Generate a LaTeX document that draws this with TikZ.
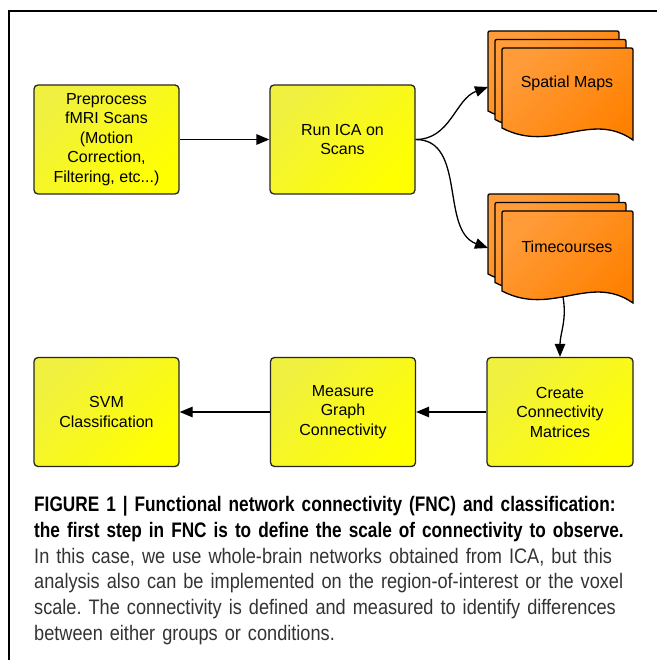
\documentclass[tikz,border=0pt]{standalone}
\usepackage{fontspec}
\setmainfont{Liberation Sans}
\newfontfamily\capfont[FakeStretch=0.865]{Liberation Sans}
\newfontfamily\capbold[FakeStretch=0.82]{Liberation Sans}
\usetikzlibrary{arrows.meta}

\definecolor{boxyellow}{HTML}{FFFF00}
\definecolor{boxyellowlight}{HTML}{F0F040}
\definecolor{sheetorange}{HTML}{FF8000}
\definecolor{sheetorangelight}{HTML}{FF9B38}
\definecolor{capgray}{HTML}{333333}

\tikzset{
    stepbox/.style={draw=black!85, line width=1.3pt, rounded corners=4pt,
        minimum width=145pt, minimum height=109pt, inner sep=0pt, align=center,
        top color=boxyellowlight, bottom color=boxyellow, shading angle=45,
        font=\fontsize{16}{19.5}\selectfont},
    sheet/.style={draw=black, line width=1.3pt,
        top color=sheetorangelight, bottom color=sheetorange, shading angle=45},
    sheetlabel/.style={font=\fontsize{16}{19.5}\selectfont},
    flow/.style={line width=1.3pt, -{Triangle[length=13pt,width=10.5pt]}},
}

% one page of a document stack, top left corner at (#1,#2)
\newcommand{\docsheet}[2]{%
    \draw[sheet] (#1,#2-80) -- (#1,#2-4) .. controls (#1,#2) .. (#1+4,#2)
        -- (#1+127,#2) .. controls (#1+131,#2) .. (#1+131,#2-4)
        -- (#1+131,#2-92) .. controls (#1+88,#2-62) and (#1+50,#2-106) .. (#1,#2-80) -- cycle;
}

\begin{document}
\begin{tikzpicture}[x=1pt,y=1pt]
    \useasboundingbox (0,0) rectangle (657,-660);
    \draw[line width=2pt] (657,-11) -- (9,-11) -- (9,-660);

    % the two stacks of output pages
    \foreach \d in {2,1,0} {
        \docsheet{502-7*\d}{-48+8.5*\d}
        \docsheet{502-7*\d}{-211+8.5*\d}
    }
    \node[sheetlabel] (spatial) at (567,-83) {Spatial Maps};
    \node[sheetlabel] (timecourses) at (567,-247) {Timecourses};
    \coordinate (spatial-in) at (488,-87);
    \coordinate (time-in) at (488,-248);
    \coordinate (time-out) at (563,-297);

    \node[stepbox] (prep) at (106.5,-139.5) {Preprocess\\fMRI Scans\\(Motion\\Correction,\\Filtering, etc...)};
    \node[stepbox] (ica) at (342.5,-139.5) {Run ICA on\\Scans};
    \node[stepbox] (svm) at (106.5,-412) {SVM\\Classification};
    \node[stepbox] (measure) at (343,-412) {Measure\\Graph\\Connectivity};
    \node[stepbox, minimum width=146pt] (create) at (560,-412) {Create\\Connectivity\\Matrices};

    \draw[flow] (prep) -- (ica);
    \draw[flow] (ica.east) to[out=0,in=200] (spatial-in);
    \draw[flow] (ica.east) to[out=0,in=160] (time-in);
    \draw[flow] (time-out) to[out=-80,in=90] (create.north);
    \draw[flow] (create) -- (measure);
    \draw[flow] (measure) -- (svm);

    \node[anchor=north west, inner sep=0pt, text width=640pt, align=left,
        font=\capfont\fontsize{21}{25.8}\selectfont\frenchspacing] (caption) at (34,-496)
        {{\capbold\bfseries FIGURE 1 | Functional network connectivity (FNC) and classification:}\\
        {\capbold\bfseries the first step in FNC is to define the scale of connectivity to observe.}\\
        \color{capgray}In this case, we use whole-brain networks obtained from ICA, but this\\
        analysis also can be implemented on the region-of-interest or the voxel\\
        scale. The connectivity is defined and measured to identify differences\\
        between either groups or conditions.};
\end{tikzpicture}
\end{document}
